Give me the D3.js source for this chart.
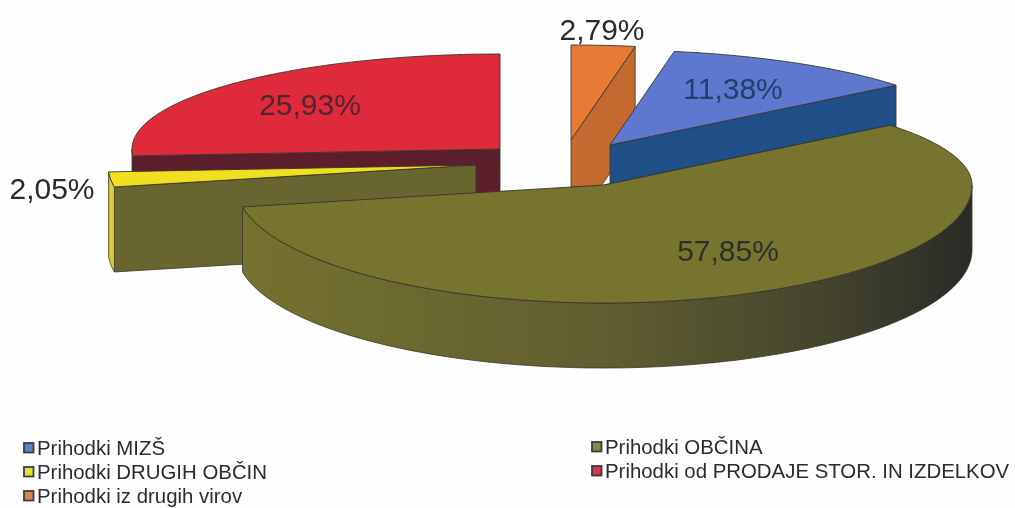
<!DOCTYPE html>
<html><head><meta charset="utf-8">
<script src="https://cdn.jsdelivr.net/npm/d3@7/dist/d3.min.js"></script>
<style>html,body{margin:0;padding:0;background:#fff}svg{display:block;filter:blur(0.45px)}text{font-family:"Liberation Sans",Arial,sans-serif}</style>
</head><body><script>
const categories = ["Prihodki MIZŠ","Prihodki OBČINA","Prihodki DRUGIH OBČIN","Prihodki od PRODAJE STOR. IN IZDELKOV","Prihodki iz drugih virov"];
const values = [11.38,57.85,2.05,25.93,2.79];
const topColors = ["#5f78cf","#77742f","#f0e020","#df2a3c","#e97a36"];
const sideColors = ["#1f4f86","url(#oliveSide)","#d9cc2e","#5c1e2b","#c4692f"];
const cutColors = ["#1f4f86","#77742f","#696531","#5c1e2b","#c4692f"];
const legendColors = ["#5b82cc","#86893f","#e9e034","#dd3350","#e08050"];
const apexX = [610,604,476,500,571];
const apexY = [145,185,165,149,140];
const depths = [65,65,85,65,90];
const cutSide = ["end","start","start","start","end"];
const labelX = [733,728,52,310,602];
const labelY = [88,250,188,104,29];
const labelColors = ["#21406b","#2c312c","#2a2a30","#4e2630","#2a2a30"];
const drawOrder = [3,4,0,2,1];
const legendRows = [[0,23,448],[1,591,447],[2,23,472],[3,591,471],[4,23,496]];

const W=1015,H=508,RX=368,RYT=95,RYB=118;
const svg=d3.select("body").append("svg").attr("width",W).attr("height",H);
svg.append("rect").attr("width",W).attr("height",H).attr("fill","#fefefe");
const g=svg.append("defs").append("linearGradient").attr("id","oliveSide").attr("gradientUnits","userSpaceOnUse")
  .attr("x1",240).attr("x2",972).attr("y1",0).attr("y2",0);
[[0,"#75722f"],[.5,"#605e30"],[.8,"#44442e"],[1,"#2a2a26"]].forEach(s=>g.append("stop").attr("offset",s[0]).attr("stop-color",s[1]));

const start=10.044*Math.PI/180;
const arcs=d3.pie().sort(null).startAngle(start).endAngle(start+2*Math.PI)(values);
const proj=(i,t,dz=0)=>{const c=Math.cos(t);return [apexX[i]+RX*Math.sin(t),apexY[i]-(c>0?RYT:RYB)*c+dz];};
const line=d3.line();
const samples=(a,b)=>{const n=Math.max(2,Math.ceil((b-a)/0.02));return d3.range(n+1).map(k=>a+(b-a)*k/n);};
const edge="#37372c";

drawOrder.forEach(i=>{
  const a=arcs[i],h=depths[i];
  const ca=cutSide[i]==="end"?a.endAngle:a.startAngle;
  const rimEnd=proj(i,ca);
  svg.append("path").attr("d",line([[apexX[i],apexY[i]],rimEnd,[rimEnd[0],rimEnd[1]+h],[apexX[i],apexY[i]+h]])+"Z")
    .attr("fill",cutColors[i]).attr("stroke",edge).attr("stroke-width",0.8);
  const s0=Math.max(a.startAngle,Math.PI/2),s1=Math.min(a.endAngle,1.5*Math.PI);
  if(s1>s0){
    const ts=samples(s0,s1);
    const pts=ts.map(t=>proj(i,t)).concat(ts.slice().reverse().map(t=>proj(i,t,h)));
    svg.append("path").attr("d",line(pts)+"Z").attr("fill",sideColors[i]).attr("stroke",edge).attr("stroke-width",0.8);
  }
  const top=[[apexX[i],apexY[i]]].concat(samples(a.startAngle,a.endAngle).map(t=>proj(i,t)));
  svg.append("path").attr("d",line(top)+"Z").attr("fill",topColors[i]).attr("stroke",edge).attr("stroke-width",0.9).attr("stroke-linejoin","round");
});

const fmt=v=>d3.format(".2f")(v).replace(".",",")+"%";
values.forEach((v,i)=>{
  svg.append("text").attr("x",labelX[i]).attr("y",labelY[i]).attr("dy","0.36em")
    .attr("text-anchor","middle").attr("font-size",30).attr("fill",labelColors[i]).text(fmt(v));
});

legendRows.forEach(([i,x,y])=>{
  svg.append("rect").attr("x",x+1).attr("y",y-5).attr("width",9.5).attr("height",9.5)
    .attr("fill",legendColors[i]).attr("stroke","#3c3c3c").attr("stroke-width",1.8);
  svg.append("text").attr("x",x+14).attr("y",y).attr("dy","0.36em")
    .attr("font-size",20.4).attr("fill","#2b2b33").text(categories[i]);
});
</script></body></html>
